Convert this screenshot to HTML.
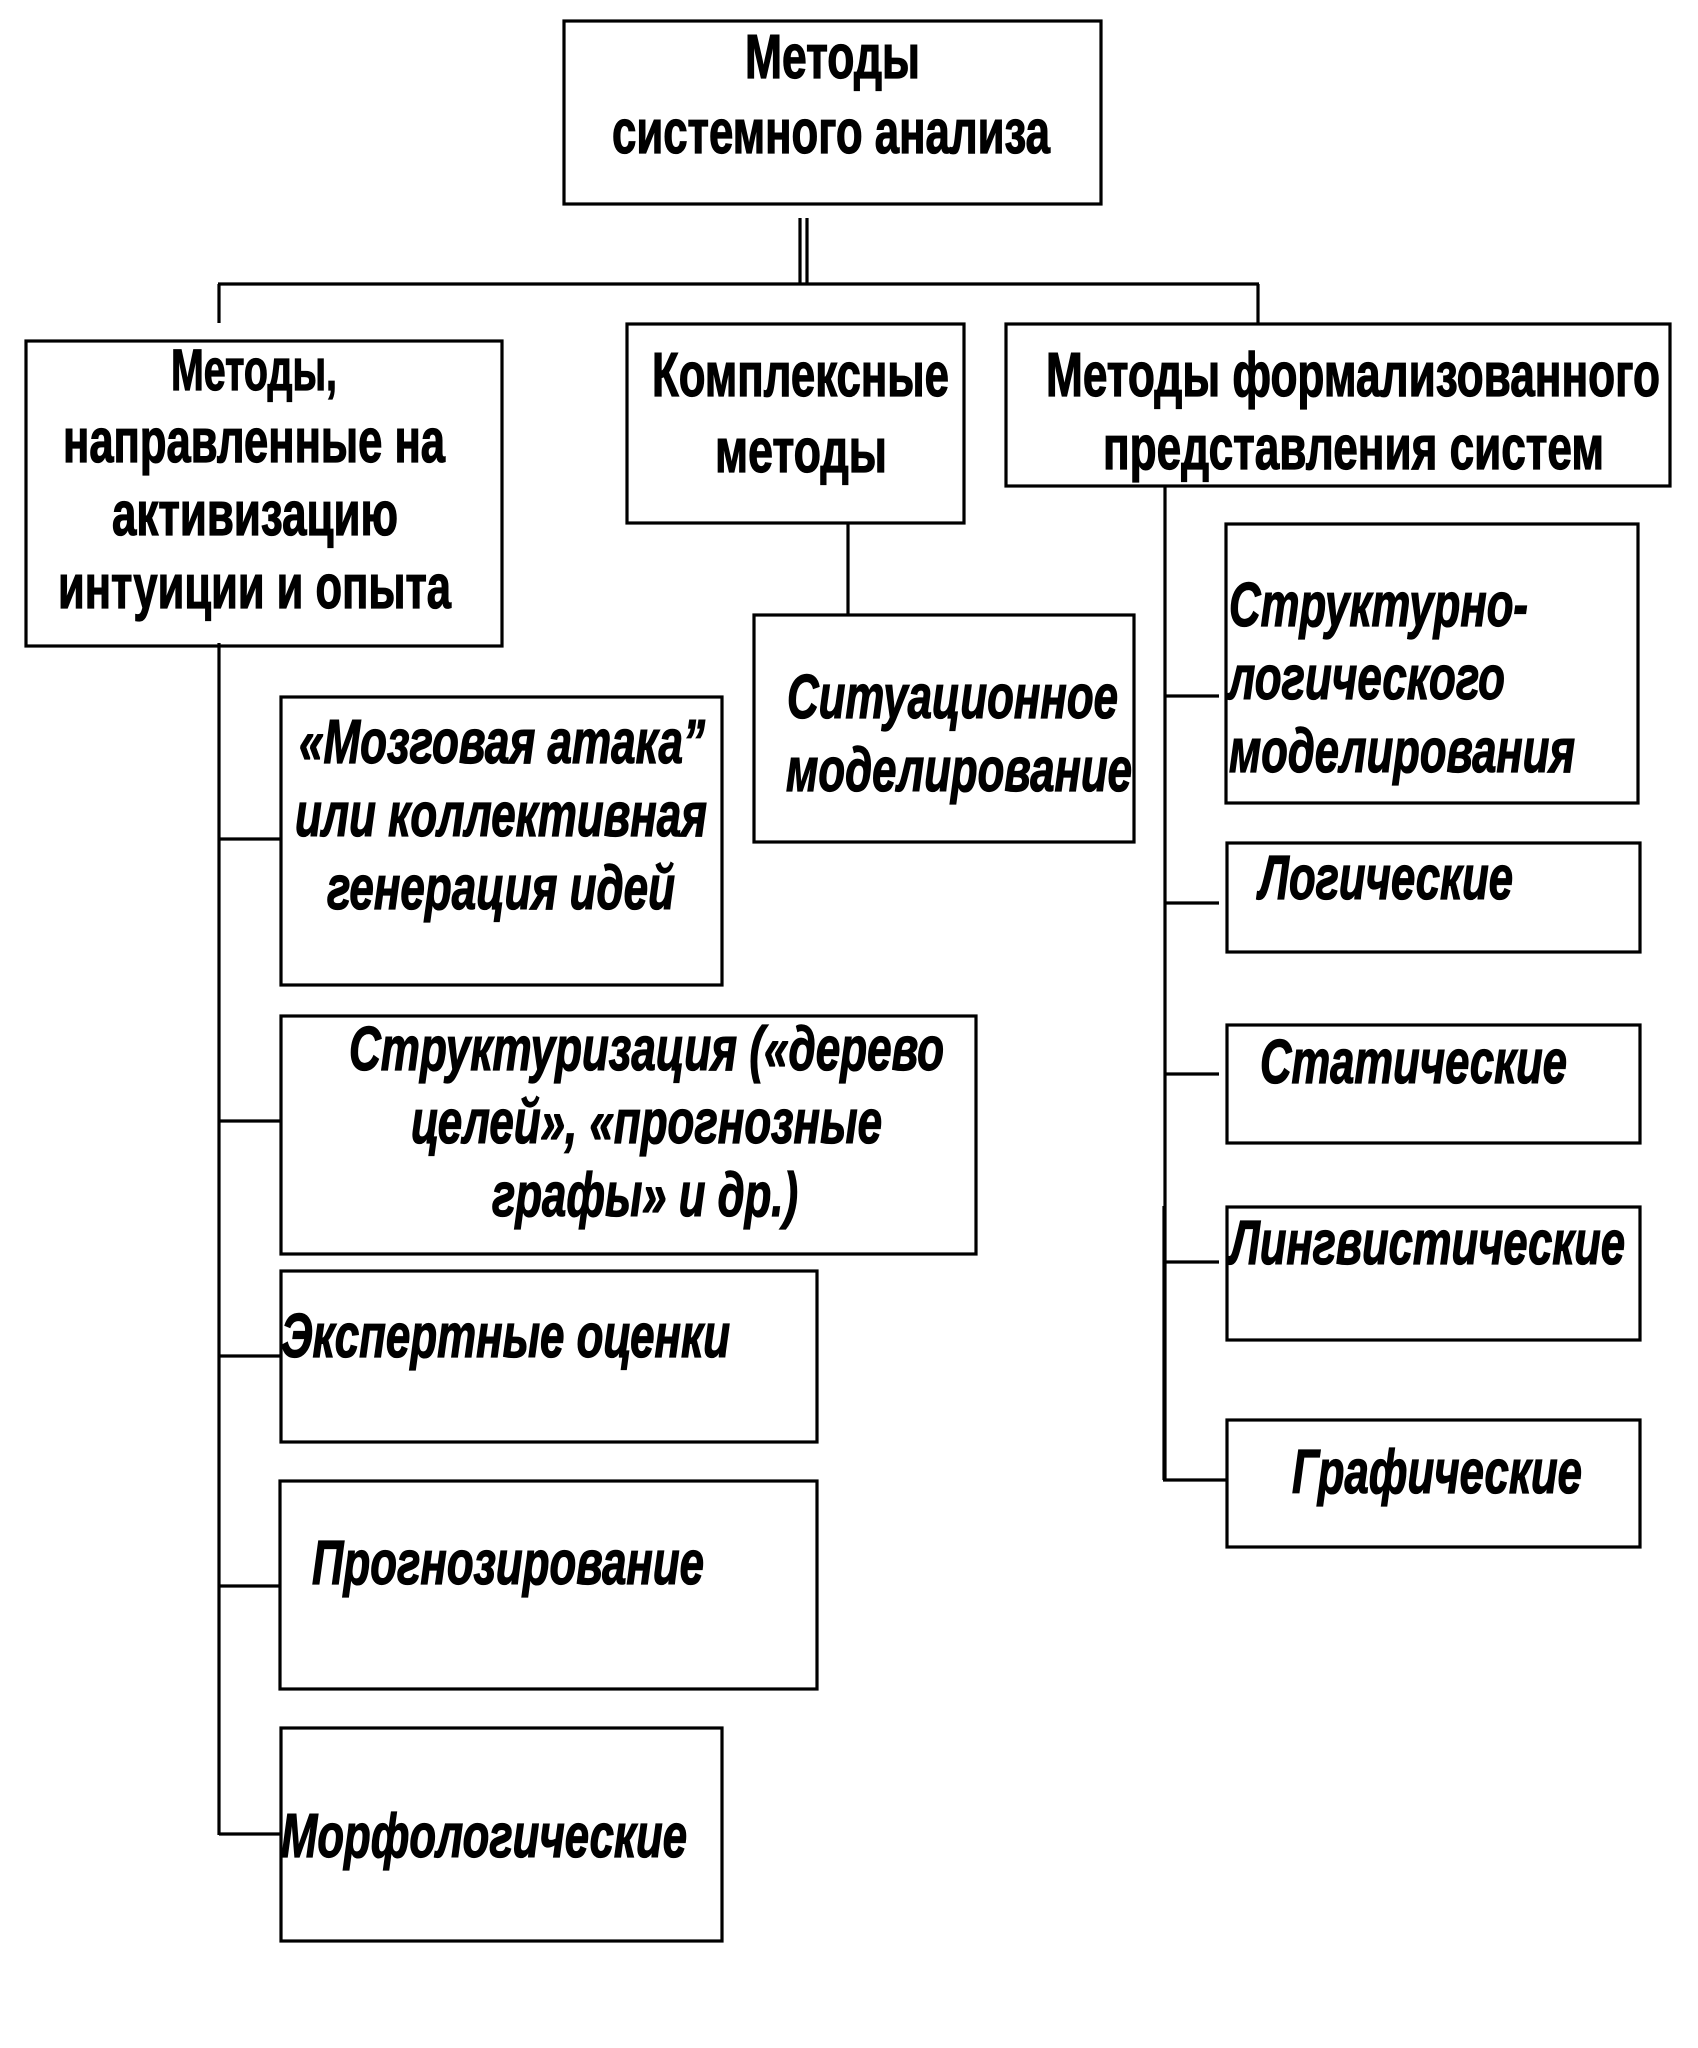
<!DOCTYPE html>
<html lang="ru"><head><meta charset="utf-8"><title>Методы системного анализа</title>
<style>html,body{margin:0;padding:0;background:#fff;width:1698px;height:2048px;overflow:hidden}svg{display:block}
text{font-family:"Liberation Sans",sans-serif;font-weight:bold;font-size:62px;fill:#000;stroke:#000;stroke-width:1.3px}
.i{font-style:italic}
rect,line{fill:none;stroke:#000;stroke-width:3.2px}</style></head><body>
<svg xmlns="http://www.w3.org/2000/svg" width="1698" height="2048" viewBox="0 0 1698 2048">
<rect x="0" y="0" width="1698" height="2048" style="fill:#fff;stroke:none"/>
<rect x="564" y="21" width="537" height="183"/>
<rect x="26" y="341" width="476" height="305"/>
<rect x="627" y="324" width="337" height="199"/>
<rect x="1006" y="324" width="664" height="162"/>
<rect x="754" y="615" width="380" height="227"/>
<rect x="281" y="697" width="441" height="288"/>
<rect x="281" y="1016" width="695" height="238"/>
<rect x="281" y="1271" width="536" height="171"/>
<rect x="280" y="1481" width="537" height="208"/>
<rect x="281" y="1728" width="441" height="213"/>
<rect x="1226" y="524" width="412" height="279"/>
<rect x="1227" y="843" width="413" height="109"/>
<rect x="1227" y="1025" width="413" height="118"/>
<rect x="1227" y="1207" width="413" height="133"/>
<rect x="1227" y="1420" width="413" height="127"/>
<line x1="800" y1="218" x2="800" y2="284"/><line x1="807" y1="218" x2="807" y2="284"/>
<line x1="218" y1="284" x2="1259" y2="284"/>
<line x1="219" y1="284" x2="219" y2="323"/><line x1="1258" y1="284" x2="1258" y2="324"/>
<line x1="219" y1="643" x2="219" y2="1835"/>
<line x1="219" y1="839" x2="281" y2="839"/><line x1="219" y1="1121" x2="281" y2="1121"/><line x1="219" y1="1356" x2="281" y2="1356"/><line x1="219" y1="1586" x2="281" y2="1586"/><line x1="219" y1="1834" x2="281" y2="1834"/>
<line x1="848" y1="524" x2="848" y2="615"/>
<line x1="1165" y1="486" x2="1165" y2="1480"/><line x1="1164" y1="1206" x2="1164" y2="1480"/>
<line x1="1165" y1="696" x2="1219" y2="696"/><line x1="1165" y1="903" x2="1219" y2="903"/><line x1="1165" y1="1074" x2="1219" y2="1074"/><line x1="1165" y1="1262" x2="1219" y2="1262"/><line x1="1163" y1="1480" x2="1227" y2="1480"/>
<text x="745" y="78" textLength="175" lengthAdjust="spacingAndGlyphs">Методы</text>
<text x="612" y="153" textLength="438" lengthAdjust="spacingAndGlyphs">системного анализа</text>
<text x="171" y="390" textLength="166" lengthAdjust="spacingAndGlyphs" style="font-size:58px">Методы,</text>
<text x="63" y="462" textLength="382" lengthAdjust="spacingAndGlyphs">направленные на</text>
<text x="112" y="535" textLength="286" lengthAdjust="spacingAndGlyphs">активизацию</text>
<text x="58" y="608" textLength="393" lengthAdjust="spacingAndGlyphs">интуиции и опыта</text>
<text x="652" y="396" textLength="297" lengthAdjust="spacingAndGlyphs">Комплексные</text>
<text x="715" y="472" textLength="172" lengthAdjust="spacingAndGlyphs">методы</text>
<text x="1046" y="396" textLength="614" lengthAdjust="spacingAndGlyphs">Методы формализованного</text>
<text x="1103" y="469" textLength="501" lengthAdjust="spacingAndGlyphs">представления систем</text>
<text class="i" x="1229" y="626" textLength="299" lengthAdjust="spacingAndGlyphs">Структурно-</text>
<text class="i" x="1228" y="699" textLength="277" lengthAdjust="spacingAndGlyphs">логического</text>
<text class="i" x="1229" y="772" textLength="346" lengthAdjust="spacingAndGlyphs">моделирования</text>
<text class="i" x="787" y="718" textLength="331" lengthAdjust="spacingAndGlyphs">Ситуационное</text>
<text class="i" x="786" y="791" textLength="346" lengthAdjust="spacingAndGlyphs">моделирование</text>
<text class="i" x="1259" y="899" textLength="254" lengthAdjust="spacingAndGlyphs">Логические</text>
<text class="i" x="1260" y="1083" textLength="307" lengthAdjust="spacingAndGlyphs">Статические</text>
<text class="i" x="1230" y="1264" textLength="395" lengthAdjust="spacingAndGlyphs">Лингвистические</text>
<text class="i" x="1292" y="1493" textLength="290" lengthAdjust="spacingAndGlyphs">Графические</text>
<text class="i" x="299" y="763" textLength="406" lengthAdjust="spacingAndGlyphs">«Мозговая атака”</text>
<text class="i" x="295" y="836" textLength="412" lengthAdjust="spacingAndGlyphs">или коллективная</text>
<text class="i" x="327" y="909" textLength="348" lengthAdjust="spacingAndGlyphs">генерация идей</text>
<text class="i" x="349" y="1070" textLength="595" lengthAdjust="spacingAndGlyphs">Структуризация («дерево</text>
<text class="i" x="411" y="1143" textLength="471" lengthAdjust="spacingAndGlyphs">целей», «прогнозные</text>
<text class="i" x="492" y="1216" textLength="306" lengthAdjust="spacingAndGlyphs">графы» и др.)</text>
<text class="i" x="281" y="1357" textLength="449" lengthAdjust="spacingAndGlyphs">Экспертные оценки</text>
<text class="i" x="312" y="1584" textLength="392" lengthAdjust="spacingAndGlyphs">Прогнозирование</text>
<text class="i" x="281" y="1857" textLength="406" lengthAdjust="spacingAndGlyphs">Морфологические</text>
</svg></body></html>
